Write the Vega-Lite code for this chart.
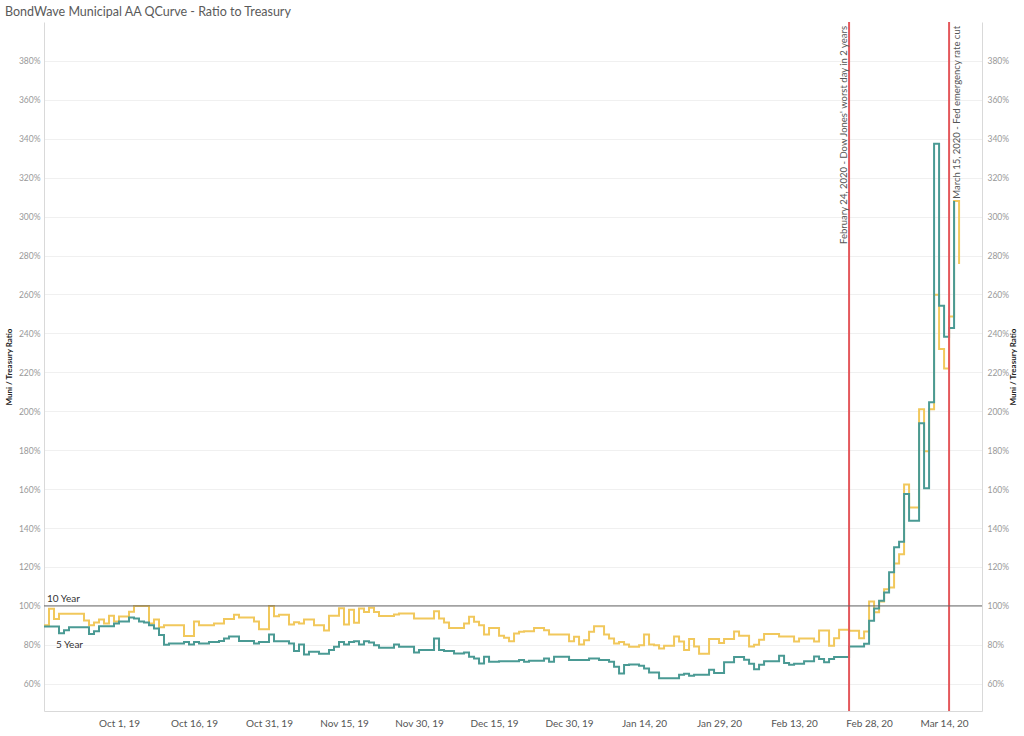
{
  "$schema": "https://vega.github.io/schema/vega-lite/v6.json",
  "width": 938,
  "height": 689,
  "autosize": {"type": "none"},
  "padding": {"left": 44, "top": 22, "right": 42, "bottom": 25},
  "background": "white",
  "title": {"text": "BondWave Municipal AA QCurve - Ratio to Treasury", "anchor": "start", "frame": "group", "dx": -39, "offset": 3, "fontSize": 12.5, "font": "Lato", "fontWeight": "normal", "color": "#5a5a5a"},
  "config": {
    "view": {"stroke": null},
    "font": "Lato",
    "axis": {"labelFont": "Lato", "titleFont": "Lato"},
    "axisLeft": {"domainColor": "#d9d9d9", "ticks": false, "labelColor": "#999999", "labelFontSize": 8.5, "labelPadding": 4, "gridColor": "#f0f0f0", "titleFontSize": 8, "titleFontWeight": "bold", "titleColor": "#222222", "titlePadding": 5},
    "axisRight": {"domainColor": "#d9d9d9", "ticks": false, "labelColor": "#999999", "labelFontSize": 8.5, "labelPadding": 5, "grid": false, "titleFontSize": 8, "titleFontWeight": "bold", "titleColor": "#222222", "titlePadding": 9, "titleAngle": 270},
    "axisBottom": {"domainColor": "#d9d9d9", "ticks": false, "labelColor": "#555555", "labelFontSize": 10, "labelPadding": 7, "grid": false}
  },
  "datasets": {
    "series": [
      {"series": "10 Year", "date": "2019-09-16", "value": 90},
      {"series": "10 Year", "date": "2019-09-17", "value": 98.5},
      {"series": "10 Year", "date": "2019-09-18", "value": 93.3},
      {"series": "10 Year", "date": "2019-09-19", "value": 96},
      {"series": "10 Year", "date": "2019-09-24", "value": 92.5},
      {"series": "10 Year", "date": "2019-09-25", "value": 90},
      {"series": "10 Year", "date": "2019-09-26", "value": 91.5},
      {"series": "10 Year", "date": "2019-09-27", "value": 93},
      {"series": "10 Year", "date": "2019-09-28", "value": 91},
      {"series": "10 Year", "date": "2019-09-29", "value": 95},
      {"series": "10 Year", "date": "2019-09-30", "value": 92},
      {"series": "10 Year", "date": "2019-10-01", "value": 94.5},
      {"series": "10 Year", "date": "2019-10-03", "value": 97},
      {"series": "10 Year", "date": "2019-10-04", "value": 100},
      {"series": "10 Year", "date": "2019-10-07", "value": 91},
      {"series": "10 Year", "date": "2019-10-08", "value": 93},
      {"series": "10 Year", "date": "2019-10-09", "value": 89},
      {"series": "10 Year", "date": "2019-10-10", "value": 90},
      {"series": "10 Year", "date": "2019-10-14", "value": 84.5},
      {"series": "10 Year", "date": "2019-10-16", "value": 92},
      {"series": "10 Year", "date": "2019-10-17", "value": 90},
      {"series": "10 Year", "date": "2019-10-20", "value": 91},
      {"series": "10 Year", "date": "2019-10-22", "value": 93.3},
      {"series": "10 Year", "date": "2019-10-24", "value": 95.5},
      {"series": "10 Year", "date": "2019-10-25", "value": 94},
      {"series": "10 Year", "date": "2019-10-28", "value": 92},
      {"series": "10 Year", "date": "2019-10-29", "value": 88},
      {"series": "10 Year", "date": "2019-10-31", "value": 100},
      {"series": "10 Year", "date": "2019-11-01", "value": 94.7},
      {"series": "10 Year", "date": "2019-11-02", "value": 95.5},
      {"series": "10 Year", "date": "2019-11-04", "value": 90.4},
      {"series": "10 Year", "date": "2019-11-05", "value": 91.6},
      {"series": "10 Year", "date": "2019-11-06", "value": 91},
      {"series": "10 Year", "date": "2019-11-07", "value": 93},
      {"series": "10 Year", "date": "2019-11-09", "value": 90},
      {"series": "10 Year", "date": "2019-11-11", "value": 87.3},
      {"series": "10 Year", "date": "2019-11-12", "value": 95},
      {"series": "10 Year", "date": "2019-11-14", "value": 98.8},
      {"series": "10 Year", "date": "2019-11-15", "value": 90.4},
      {"series": "10 Year", "date": "2019-11-16", "value": 98},
      {"series": "10 Year", "date": "2019-11-17", "value": 91.3},
      {"series": "10 Year", "date": "2019-11-18", "value": 98.6},
      {"series": "10 Year", "date": "2019-11-19", "value": 96.9},
      {"series": "10 Year", "date": "2019-11-20", "value": 99},
      {"series": "10 Year", "date": "2019-11-21", "value": 96.9},
      {"series": "10 Year", "date": "2019-11-22", "value": 94.8},
      {"series": "10 Year", "date": "2019-11-25", "value": 95.6},
      {"series": "10 Year", "date": "2019-11-26", "value": 96.1},
      {"series": "10 Year", "date": "2019-11-29", "value": 93.5},
      {"series": "10 Year", "date": "2019-12-03", "value": 97.3},
      {"series": "10 Year", "date": "2019-12-04", "value": 93.5},
      {"series": "10 Year", "date": "2019-12-05", "value": 91.5},
      {"series": "10 Year", "date": "2019-12-06", "value": 88.7},
      {"series": "10 Year", "date": "2019-12-09", "value": 91},
      {"series": "10 Year", "date": "2019-12-10", "value": 94.4},
      {"series": "10 Year", "date": "2019-12-11", "value": 91.8},
      {"series": "10 Year", "date": "2019-12-12", "value": 90.1},
      {"series": "10 Year", "date": "2019-12-13", "value": 85.3},
      {"series": "10 Year", "date": "2019-12-14", "value": 88.7},
      {"series": "10 Year", "date": "2019-12-16", "value": 84.6},
      {"series": "10 Year", "date": "2019-12-17", "value": 83.6},
      {"series": "10 Year", "date": "2019-12-18", "value": 81.9},
      {"series": "10 Year", "date": "2019-12-19", "value": 85.8},
      {"series": "10 Year", "date": "2019-12-20", "value": 86.7},
      {"series": "10 Year", "date": "2019-12-21", "value": 87},
      {"series": "10 Year", "date": "2019-12-23", "value": 88.7},
      {"series": "10 Year", "date": "2019-12-25", "value": 87.5},
      {"series": "10 Year", "date": "2019-12-26", "value": 85.3},
      {"series": "10 Year", "date": "2019-12-30", "value": 81.9},
      {"series": "10 Year", "date": "2019-12-31", "value": 84.1},
      {"series": "10 Year", "date": "2020-01-01", "value": 80.2},
      {"series": "10 Year", "date": "2020-01-02", "value": 82.4},
      {"series": "10 Year", "date": "2020-01-03", "value": 86.7},
      {"series": "10 Year", "date": "2020-01-04", "value": 89.6},
      {"series": "10 Year", "date": "2020-01-06", "value": 85.3},
      {"series": "10 Year", "date": "2020-01-07", "value": 83.3},
      {"series": "10 Year", "date": "2020-01-08", "value": 80.7},
      {"series": "10 Year", "date": "2020-01-09", "value": 81.5},
      {"series": "10 Year", "date": "2020-01-10", "value": 80.2},
      {"series": "10 Year", "date": "2020-01-11", "value": 79},
      {"series": "10 Year", "date": "2020-01-13", "value": 79.8},
      {"series": "10 Year", "date": "2020-01-14", "value": 85.3},
      {"series": "10 Year", "date": "2020-01-15", "value": 80.2},
      {"series": "10 Year", "date": "2020-01-16", "value": 79.8},
      {"series": "10 Year", "date": "2020-01-17", "value": 78.1},
      {"series": "10 Year", "date": "2020-01-18", "value": 79.5},
      {"series": "10 Year", "date": "2020-01-20", "value": 84.3},
      {"series": "10 Year", "date": "2020-01-21", "value": 81.7},
      {"series": "10 Year", "date": "2020-01-22", "value": 77.4},
      {"series": "10 Year", "date": "2020-01-23", "value": 83},
      {"series": "10 Year", "date": "2020-01-24", "value": 79.2},
      {"series": "10 Year", "date": "2020-01-25", "value": 75.4},
      {"series": "10 Year", "date": "2020-01-27", "value": 83},
      {"series": "10 Year", "date": "2020-01-29", "value": 80.9},
      {"series": "10 Year", "date": "2020-01-30", "value": 83},
      {"series": "10 Year", "date": "2020-02-01", "value": 86.9},
      {"series": "10 Year", "date": "2020-02-02", "value": 84.6},
      {"series": "10 Year", "date": "2020-02-04", "value": 79.2},
      {"series": "10 Year", "date": "2020-02-05", "value": 80},
      {"series": "10 Year", "date": "2020-02-06", "value": 82.6},
      {"series": "10 Year", "date": "2020-02-07", "value": 85.5},
      {"series": "10 Year", "date": "2020-02-10", "value": 84.3},
      {"series": "10 Year", "date": "2020-02-13", "value": 81.7},
      {"series": "10 Year", "date": "2020-02-14", "value": 83.2},
      {"series": "10 Year", "date": "2020-02-17", "value": 81.7},
      {"series": "10 Year", "date": "2020-02-18", "value": 87.4},
      {"series": "10 Year", "date": "2020-02-20", "value": 79.5},
      {"series": "10 Year", "date": "2020-02-21", "value": 83.4},
      {"series": "10 Year", "date": "2020-02-22", "value": 87.7},
      {"series": "10 Year", "date": "2020-02-24", "value": 87.2},
      {"series": "10 Year", "date": "2020-02-26", "value": 83.4},
      {"series": "10 Year", "date": "2020-02-27", "value": 86.9},
      {"series": "10 Year", "date": "2020-02-28", "value": 102.2},
      {"series": "10 Year", "date": "2020-02-29", "value": 96.7},
      {"series": "10 Year", "date": "2020-03-01", "value": 102.2},
      {"series": "10 Year", "date": "2020-03-02", "value": 108.5},
      {"series": "10 Year", "date": "2020-03-03", "value": 109.5},
      {"series": "10 Year", "date": "2020-03-04", "value": 121.8},
      {"series": "10 Year", "date": "2020-03-05", "value": 126.5},
      {"series": "10 Year", "date": "2020-03-06", "value": 162.4},
      {"series": "10 Year", "date": "2020-03-07", "value": 150.6},
      {"series": "10 Year", "date": "2020-03-09", "value": 201},
      {"series": "10 Year", "date": "2020-03-10", "value": 179.5},
      {"series": "10 Year", "date": "2020-03-11", "value": 201},
      {"series": "10 Year", "date": "2020-03-12", "value": 259.9},
      {"series": "10 Year", "date": "2020-03-13", "value": 232},
      {"series": "10 Year", "date": "2020-03-14", "value": 222},
      {"series": "10 Year", "date": "2020-03-15", "value": 248.7},
      {"series": "10 Year", "date": "2020-03-16", "value": 308},
      {"series": "10 Year", "date": "2020-03-17", "value": 275.6},
      {"series": "5 Year", "date": "2019-09-16", "value": 89.4},
      {"series": "5 Year", "date": "2019-09-19", "value": 86},
      {"series": "5 Year", "date": "2019-09-20", "value": 87.5},
      {"series": "5 Year", "date": "2019-09-21", "value": 89},
      {"series": "5 Year", "date": "2019-09-25", "value": 85.5},
      {"series": "5 Year", "date": "2019-09-26", "value": 87},
      {"series": "5 Year", "date": "2019-09-27", "value": 89.5},
      {"series": "5 Year", "date": "2019-09-30", "value": 91},
      {"series": "5 Year", "date": "2019-10-01", "value": 92},
      {"series": "5 Year", "date": "2019-10-03", "value": 94},
      {"series": "5 Year", "date": "2019-10-04", "value": 93.5},
      {"series": "5 Year", "date": "2019-10-05", "value": 92},
      {"series": "5 Year", "date": "2019-10-06", "value": 91.5},
      {"series": "5 Year", "date": "2019-10-07", "value": 90},
      {"series": "5 Year", "date": "2019-10-08", "value": 88.4},
      {"series": "5 Year", "date": "2019-10-09", "value": 85},
      {"series": "5 Year", "date": "2019-10-10", "value": 80},
      {"series": "5 Year", "date": "2019-10-11", "value": 80.7},
      {"series": "5 Year", "date": "2019-10-14", "value": 81.5},
      {"series": "5 Year", "date": "2019-10-15", "value": 80.2},
      {"series": "5 Year", "date": "2019-10-16", "value": 81.5},
      {"series": "5 Year", "date": "2019-10-17", "value": 80.7},
      {"series": "5 Year", "date": "2019-10-19", "value": 81.5},
      {"series": "5 Year", "date": "2019-10-21", "value": 82},
      {"series": "5 Year", "date": "2019-10-22", "value": 83.3},
      {"series": "5 Year", "date": "2019-10-23", "value": 84.3},
      {"series": "5 Year", "date": "2019-10-25", "value": 82},
      {"series": "5 Year", "date": "2019-10-28", "value": 80.7},
      {"series": "5 Year", "date": "2019-10-29", "value": 81.5},
      {"series": "5 Year", "date": "2019-10-31", "value": 85.3},
      {"series": "5 Year", "date": "2019-11-01", "value": 81.9},
      {"series": "5 Year", "date": "2019-11-04", "value": 80.7},
      {"series": "5 Year", "date": "2019-11-05", "value": 76.8},
      {"series": "5 Year", "date": "2019-11-06", "value": 80.2},
      {"series": "5 Year", "date": "2019-11-07", "value": 75},
      {"series": "5 Year", "date": "2019-11-08", "value": 76.4},
      {"series": "5 Year", "date": "2019-11-10", "value": 75.4},
      {"series": "5 Year", "date": "2019-11-12", "value": 77.3},
      {"series": "5 Year", "date": "2019-11-13", "value": 79},
      {"series": "5 Year", "date": "2019-11-14", "value": 81.5},
      {"series": "5 Year", "date": "2019-11-15", "value": 80.2},
      {"series": "5 Year", "date": "2019-11-16", "value": 81.5},
      {"series": "5 Year", "date": "2019-11-17", "value": 81.9},
      {"series": "5 Year", "date": "2019-11-18", "value": 80.2},
      {"series": "5 Year", "date": "2019-11-19", "value": 81.9},
      {"series": "5 Year", "date": "2019-11-20", "value": 81.2},
      {"series": "5 Year", "date": "2019-11-21", "value": 79.8},
      {"series": "5 Year", "date": "2019-11-22", "value": 78.5},
      {"series": "5 Year", "date": "2019-11-25", "value": 80.2},
      {"series": "5 Year", "date": "2019-11-26", "value": 79},
      {"series": "5 Year", "date": "2019-11-29", "value": 76.1},
      {"series": "5 Year", "date": "2019-11-30", "value": 77.3},
      {"series": "5 Year", "date": "2019-12-03", "value": 83.3},
      {"series": "5 Year", "date": "2019-12-04", "value": 77.3},
      {"series": "5 Year", "date": "2019-12-05", "value": 76.8},
      {"series": "5 Year", "date": "2019-12-07", "value": 75.6},
      {"series": "5 Year", "date": "2019-12-09", "value": 76.1},
      {"series": "5 Year", "date": "2019-12-10", "value": 73.9},
      {"series": "5 Year", "date": "2019-12-11", "value": 73},
      {"series": "5 Year", "date": "2019-12-12", "value": 70.4},
      {"series": "5 Year", "date": "2019-12-13", "value": 73.9},
      {"series": "5 Year", "date": "2019-12-14", "value": 71.3},
      {"series": "5 Year", "date": "2019-12-16", "value": 71.6},
      {"series": "5 Year", "date": "2019-12-20", "value": 72.2},
      {"series": "5 Year", "date": "2019-12-21", "value": 71.3},
      {"series": "5 Year", "date": "2019-12-22", "value": 71.8},
      {"series": "5 Year", "date": "2019-12-25", "value": 73},
      {"series": "5 Year", "date": "2019-12-26", "value": 71.3},
      {"series": "5 Year", "date": "2019-12-27", "value": 73.9},
      {"series": "5 Year", "date": "2019-12-30", "value": 72.2},
      {"series": "5 Year", "date": "2020-01-03", "value": 73},
      {"series": "5 Year", "date": "2020-01-05", "value": 72.2},
      {"series": "5 Year", "date": "2020-01-07", "value": 71.3},
      {"series": "5 Year", "date": "2020-01-08", "value": 68.7},
      {"series": "5 Year", "date": "2020-01-09", "value": 65.3},
      {"series": "5 Year", "date": "2020-01-10", "value": 69.6},
      {"series": "5 Year", "date": "2020-01-11", "value": 69.9},
      {"series": "5 Year", "date": "2020-01-13", "value": 69.2},
      {"series": "5 Year", "date": "2020-01-14", "value": 67.9},
      {"series": "5 Year", "date": "2020-01-15", "value": 65.8},
      {"series": "5 Year", "date": "2020-01-17", "value": 62.8},
      {"series": "5 Year", "date": "2020-01-21", "value": 64.6},
      {"series": "5 Year", "date": "2020-01-22", "value": 65.1},
      {"series": "5 Year", "date": "2020-01-23", "value": 64.1},
      {"series": "5 Year", "date": "2020-01-24", "value": 64.6},
      {"series": "5 Year", "date": "2020-01-27", "value": 67.2},
      {"series": "5 Year", "date": "2020-01-28", "value": 65.5},
      {"series": "5 Year", "date": "2020-01-30", "value": 71},
      {"series": "5 Year", "date": "2020-02-01", "value": 73.7},
      {"series": "5 Year", "date": "2020-02-03", "value": 72.3},
      {"series": "5 Year", "date": "2020-02-04", "value": 70.3},
      {"series": "5 Year", "date": "2020-02-05", "value": 67.5},
      {"series": "5 Year", "date": "2020-02-06", "value": 69.8},
      {"series": "5 Year", "date": "2020-02-07", "value": 71.5},
      {"series": "5 Year", "date": "2020-02-10", "value": 74.4},
      {"series": "5 Year", "date": "2020-02-11", "value": 70.6},
      {"series": "5 Year", "date": "2020-02-12", "value": 69.8},
      {"series": "5 Year", "date": "2020-02-13", "value": 70.3},
      {"series": "5 Year", "date": "2020-02-15", "value": 71.5},
      {"series": "5 Year", "date": "2020-02-17", "value": 74},
      {"series": "5 Year", "date": "2020-02-18", "value": 72.7},
      {"series": "5 Year", "date": "2020-02-19", "value": 71},
      {"series": "5 Year", "date": "2020-02-20", "value": 72.7},
      {"series": "5 Year", "date": "2020-02-21", "value": 73.7},
      {"series": "5 Year", "date": "2020-02-24", "value": 79.1},
      {"series": "5 Year", "date": "2020-02-27", "value": 80.6},
      {"series": "5 Year", "date": "2020-02-28", "value": 92.4},
      {"series": "5 Year", "date": "2020-02-29", "value": 98.7},
      {"series": "5 Year", "date": "2020-03-01", "value": 102.6},
      {"series": "5 Year", "date": "2020-03-02", "value": 106.9},
      {"series": "5 Year", "date": "2020-03-03", "value": 117.3},
      {"series": "5 Year", "date": "2020-03-04", "value": 130.1},
      {"series": "5 Year", "date": "2020-03-05", "value": 133},
      {"series": "5 Year", "date": "2020-03-06", "value": 157.5},
      {"series": "5 Year", "date": "2020-03-07", "value": 143.8},
      {"series": "5 Year", "date": "2020-03-09", "value": 193.8},
      {"series": "5 Year", "date": "2020-03-10", "value": 160.5},
      {"series": "5 Year", "date": "2020-03-11", "value": 204.6},
      {"series": "5 Year", "date": "2020-03-12", "value": 337.5},
      {"series": "5 Year", "date": "2020-03-13", "value": 254.2},
      {"series": "5 Year", "date": "2020-03-14", "value": 238.3},
      {"series": "5 Year", "date": "2020-03-15", "value": 242.8},
      {"series": "5 Year", "date": "2020-03-16", "value": 308}
    ],
    "events": [
      {"date": "2020-02-24", "label": "February 24, 2020 - Dow Jones' worst day in 2 years", "side": "left"},
      {"date": "2020-03-15", "label": "March 15, 2020 - Fed emergency rate cut", "side": "right"}
    ],
    "reference": [{"value": 100}]
  },
  "layer": [
    {
      "layer": [
        {
          "data": {"name": "series"},
          "mark": {"type": "line", "interpolate": "step-after", "strokeWidth": 2},
          "encoding": {
            "x": {"field": "date", "type": "temporal", "title": null,
                  "scale": {"type": "utc", "domain": [{"year": 2019, "month": 9, "date": 16, "utc": true}, {"year": 2020, "month": 3, "date": 21, "hours": 14, "utc": true}]},
                  "axis": {"format": "%b %-d, %y", "values": [
                    {"year": 2019, "month": 10, "date": 1, "utc": true},
                    {"year": 2019, "month": 10, "date": 16, "utc": true},
                    {"year": 2019, "month": 10, "date": 31, "utc": true},
                    {"year": 2019, "month": 11, "date": 15, "utc": true},
                    {"year": 2019, "month": 11, "date": 30, "utc": true},
                    {"year": 2019, "month": 12, "date": 15, "utc": true},
                    {"year": 2019, "month": 12, "date": 30, "utc": true},
                    {"year": 2020, "month": 1, "date": 14, "utc": true},
                    {"year": 2020, "month": 1, "date": 29, "utc": true},
                    {"year": 2020, "month": 2, "date": 13, "utc": true},
                    {"year": 2020, "month": 2, "date": 28, "utc": true},
                    {"year": 2020, "month": 3, "date": 14, "utc": true}
                  ]}},
            "y": {"field": "value", "type": "quantitative", "title": "Muni / Treasury Ratio",
                  "scale": {"domain": [46, 400], "nice": false, "zero": false},
                  "axis": {"orient": "left", "grid": true, "values": [60, 80, 100, 120, 140, 160, 180, 200, 220, 240, 260, 280, 300, 320, 340, 360, 380], "labelExpr": "datum.value + '%'"}},
            "color": {"field": "series", "type": "nominal", "scale": {"domain": ["10 Year", "5 Year"], "range": ["#F1C85C", "#4A9A94"]}, "legend": null}
          }
        },
        {
          "data": {"name": "series"},
          "transform": [
            {"window": [{"op": "row_number", "as": "rn"}], "groupby": ["series"]},
            {"filter": "datum.rn == 1 && datum.series == '10 Year'"}
          ],
          "mark": {"type": "text", "align": "left", "baseline": "middle", "dx": 3, "dy": -26, "fontSize": 10, "color": "#333333"},
          "encoding": {
            "x": {"field": "date", "type": "temporal"},
            "y": {"field": "value", "type": "quantitative", "title": "Muni / Treasury Ratio", "scale": {"domain": [46, 400], "nice": false, "zero": false}},
            "text": {"field": "series"}
          }
        },
        {
          "data": {"name": "series"},
          "transform": [
            {"window": [{"op": "row_number", "as": "rn"}], "groupby": ["series"]},
            {"filter": "datum.rn == 1 && datum.series == '5 Year'"}
          ],
          "mark": {"type": "text", "align": "left", "baseline": "middle", "dx": 12, "dy": 18, "fontSize": 10, "color": "#333333"},
          "encoding": {
            "x": {"field": "date", "type": "temporal"},
            "y": {"field": "value", "type": "quantitative", "title": "Muni / Treasury Ratio", "scale": {"domain": [46, 400], "nice": false, "zero": false}},
            "text": {"field": "series"}
          }
        },
        {
          "data": {"name": "events"},
          "mark": {"type": "rule", "color": "#E4585C", "strokeWidth": 2},
          "encoding": {
            "x": {"field": "date", "type": "temporal"}
          }
        },
        {
          "data": {"name": "events"},
          "transform": [{"filter": "datum.side == 'left'"}],
          "mark": {"type": "text", "angle": 270, "align": "right", "baseline": "bottom", "fontSize": 9.5, "color": "#555555"},
          "encoding": {
            "x": {"field": "date", "type": "temporal"},
            "y": {"datum": 398, "type": "quantitative", "title": "Muni / Treasury Ratio", "scale": {"domain": [46, 400], "nice": false, "zero": false}},
            "text": {"field": "label"}
          }
        },
        {
          "data": {"name": "events"},
          "transform": [{"filter": "datum.side == 'right'"}],
          "mark": {"type": "text", "angle": 270, "align": "right", "baseline": "top", "dy": 3, "fontSize": 9.5, "color": "#555555"},
          "encoding": {
            "x": {"field": "date", "type": "temporal"},
            "y": {"datum": 398, "type": "quantitative", "title": "Muni / Treasury Ratio", "scale": {"domain": [46, 400], "nice": false, "zero": false}},
            "text": {"field": "label"}
          }
        }
      ]
    },
    {
      "data": {"name": "reference"},
      "mark": {"type": "rule", "color": "#666666", "strokeWidth": 1},
      "encoding": {
        "y": {"field": "value", "type": "quantitative", "title": "Muni / Treasury Ratio",
              "scale": {"domain": [46, 400], "nice": false, "zero": false},
              "axis": {"orient": "right", "grid": false, "values": [60, 80, 100, 120, 140, 160, 180, 200, 220, 240, 260, 280, 300, 320, 340, 360, 380], "labelExpr": "datum.value + '%'"}}
      }
    }
  ],
  "resolve": {"scale": {"y": "independent"}}
}
